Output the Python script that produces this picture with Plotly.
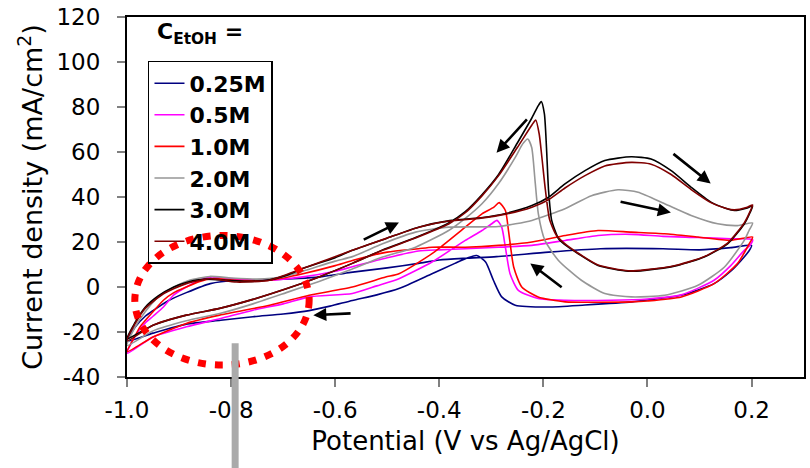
import plotly.graph_objects as go

# Cyclic voltammograms: forward scan -1.0 V -> 0.2 V, then reverse scan back to -1.0 V.
# Potential in V vs Ag/AgCl, current density in mA/cm2.
pot_025 = [-1.0, -0.985, -0.965, -0.95, -0.92, -0.886, -0.84, -0.79, -0.73, -0.67, -0.63, -0.57, -0.50, -0.44,
           -0.40, -0.35, -0.29, -0.19, -0.09, 0.03, 0.10, 0.16, 0.20,
           0.195, 0.18, 0.16, 0.128, 0.065, 0.0, -0.03, -0.12, -0.19, -0.254, -0.28, -0.296, -0.311, -0.328,
           -0.345, -0.37, -0.414, -0.4775, -0.52, -0.567, -0.61, -0.65, -0.70, -0.758, -0.82, -0.886, -0.95, -1.0]
cur_025 = [-24, -18, -13, -10.5, -6, -2.5, 1.5, 3, 3.2, 3.8, 4.5, 6.5, 8.5, 10.5,
           12, 12.8, 13.5, 15.5, 17, 17, 16.5, 17.5, 18.5,
           16, 11.8, 7, 1.5, -3.7, -5.8, -6.6, -8, -8.9, -8.1, -4.4, 3, 11.1, 14,
           13, 10.5, 5.9, -0.7, -3.5, -6, -8.5, -10.5, -12, -13.2, -14.8, -16.5, -20.5, -24]

pot_05 = [-1.0, -0.985, -0.965, -0.95, -0.93, -0.91, -0.886, -0.86, -0.841, -0.79, -0.726, -0.662, -0.60, -0.567,
          -0.50, -0.44, -0.40, -0.35, -0.286, -0.222, -0.158, -0.095, -0.031, 0.03, 0.097, 0.16, 0.202,
          0.195, 0.186, 0.16, 0.128, 0.065, 0.0, -0.07, -0.158, -0.21, -0.248, -0.264, -0.273, -0.280, -0.289,
          -0.30, -0.318, -0.35, -0.414, -0.4775, -0.52, -0.567, -0.65, -0.70, -0.758, -0.82, -0.886, -0.95, -1.0]
cur_05 = [-29.5, -22, -16, -13, -8.9, -3.5, 0, 3, 4.4, 3.5, 3, 4.5, 7, 9,
          13, 16, 16.5, 17, 17.7, 18.5, 20.7, 22.9, 23.4, 22.5, 22, 21.4, 21,
          18, 16.3, 9.5, 3, -3.5, -5.3, -5.9, -5.9, -5.1, -1.5, 5.9, 17.7, 26.6, 29.6,
          28, 25.1, 20.7, 11.1, 3.7, 0.5, -2.9, -4.4, -7.5, -10.3, -14, -17.7, -22.2, -29.5]

pot_10 = [-1.0, -0.985, -0.975, -0.95, -0.93, -0.91, -0.886, -0.86, -0.835, -0.79, -0.726, -0.662, -0.60, -0.567,
          -0.50, -0.44, -0.414, -0.35, -0.286, -0.222, -0.158, -0.095, -0.031, 0.033, 0.097, 0.16, 0.202,
          0.195, 0.173, 0.128, 0.065, 0.0, -0.031, -0.158, -0.21, -0.2415, -0.257, -0.267, -0.273, -0.285,
          -0.295, -0.318, -0.35, -0.414, -0.4775, -0.503, -0.567, -0.65, -0.726, -0.822, -0.886, -0.95, -1.0]
cur_10 = [-28.8, -22, -17.7, -11, -5.9, -2.5, 0, 2.5, 3.7, 3, 3, 5.9, 9.5, 11.8,
          15.5, 17, 17.7, 17.7, 18.5, 20, 22.9, 25.1, 24.4, 23.7, 22.2, 20.7, 22.2,
          19, 10.4, 1.5, -4.4, -6.2, -6.6, -6.6, -4.4, 0, 8.9, 25.1, 34, 37.5,
          35.5, 32.5, 26.6, 14.8, 5.9, 4.4, 0, -3.7, -8.1, -12.5, -16.2, -22.2, -28.8]

pot_20 = [-1.0, -0.985, -0.965, -0.94, -0.91, -0.88, -0.841, -0.80, -0.75, -0.70, -0.662, -0.60, -0.567, -0.509,
          -0.4456, -0.382, -0.286, -0.222, -0.1585, -0.1075, -0.0565, -0.018, 0.033, 0.084, 0.135, 0.173, 0.202,
          0.195, 0.186, 0.148, 0.097, 0.033, -0.031, -0.082, -0.127, -0.171, -0.197, -0.2096, -0.216, -0.2224,
          -0.230, -0.24, -0.254, -0.286, -0.318, -0.35, -0.382, -0.4456, -0.509, -0.567, -0.631, -0.694, -0.758,
          -0.822, -0.886, -0.95, -1.0]
cur_20 = [-26, -18, -11, -4.5, 0, 3, 4.7, 4, 3.5, 4.5, 7, 11.5, 13.5, 19.2,
          24.4, 26.6, 26.9, 29.6, 34.8, 40.6, 43.2, 42.1, 37, 31.8, 28.1, 27.3, 28.4,
          25, 20.7, 8.9, 0.75, -3.7, -4.4, -2.9, 3, 11.8, 20.7, 32.5, 47.3, 62,
          65.8, 63.5, 57.6, 46, 37, 30.5, 25.1, 17.7, 13.3, 8, 2.5, -2.5, -7.5,
          -11.8, -15, -19.5, -26]

pot_30 = [-1.0, -0.985, -0.965, -0.94, -0.91, -0.886, -0.85, -0.81, -0.77, -0.726, -0.69, -0.6626, -0.60, -0.567,
          -0.503, -0.44, -0.38, -0.32, -0.27, -0.222, -0.19, -0.1585, -0.12, -0.082, -0.031, 0.007, 0.0456, 0.084,
          0.122, 0.15, 0.167, 0.19, 0.202,
          0.197, 0.186, 0.154, 0.109, 0.058, -0.005, -0.037, -0.095, -0.133, -0.16, -0.171, -0.184, -0.19, -0.194,
          -0.198, -0.204, -0.210, -0.2224, -0.25, -0.286, -0.318, -0.35, -0.382, -0.4456, -0.509, -0.567, -0.631,
          -0.694, -0.758, -0.822, -0.886, -0.95, -1.0]
cur_30 = [-23, -16, -9, -4, 0, 2, 3.5, 3, 2.5, 3.2, 5.5, 8.2, 13, 16.3,
          21.5, 26.6, 29.5, 30.8, 32.8, 36.2, 39.9, 45.8, 51.7, 56.2, 57.9, 56.9, 51.7, 44.3,
          37.7, 35, 34, 35, 36,
          33, 28, 19.2, 13.3, 9.6, 7.4, 7.0, 9.6, 14.8, 19, 21.5, 29.6, 42.9, 62,
          76.9, 82.4, 80.5, 75, 64, 50, 41, 33.5, 28.5, 22, 16.5, 10.5, 4.5,
          -0.8, -5.5, -9.5, -12.5, -17, -23]

pot_40 = [-1.0, -0.985, -0.965, -0.93, -0.886, -0.841, -0.79, -0.726, -0.6626, -0.567, -0.503, -0.439, -0.38,
          -0.32, -0.27, -0.222, -0.19, -0.1585, -0.12, -0.082, -0.031, 0.007, 0.0456, 0.084, 0.122, 0.15, 0.167,
          0.19, 0.202,
          0.197, 0.186, 0.154, 0.109, 0.058, -0.005, -0.037, -0.095, -0.133, -0.16, -0.175, -0.188, -0.196,
          -0.203, -0.208, -0.2147, -0.222, -0.25, -0.286, -0.318, -0.35, -0.382, -0.4456, -0.509, -0.567, -0.631,
          -0.694, -0.758, -0.822, -0.886, -0.95, -1.0]
cur_40 = [-24, -16.5, -9.5, -3, 1.5, 3.7, 2.2, 3.0, 8.2, 16.3, 21.5, 26.6, 29.3,
          30.6, 32.5, 35.5, 38.8, 44, 49.5, 53.8, 55.4, 54.6, 50, 43.3, 37.5, 35, 34.3,
          35.3, 36.5,
          33.5, 28.5, 19.5, 13.5, 9.8, 7.6, 7.2, 9.8, 15, 19.5, 23, 30, 43,
          58, 68, 74.2, 72, 62, 49.5, 40.5, 33, 28, 21.8, 16.3, 10.5, 4.5,
          -0.8, -5.5, -9.5, -12.5, -17, -24]

series_names = ["0.25M", "0.5M", "1.0M", "2.0M", "3.0M", "4.0M"]
series_pot = [pot_025, pot_05, pot_10, pot_20, pot_30, pot_40]
series_cur = [cur_025, cur_05, cur_10, cur_20, cur_30, cur_40]
series_colors = ["#000080", "#ff00ff", "#ff0000", "#969696", "#000000", "#800000"]

x_tick_vals = [-1.0, -0.8, -0.6, -0.4, -0.2, 0.0, 0.2]
x_tick_text = ["-1.0", "-0.8", "-0.6", "-0.4", "-0.2", "0.0", "0.2"]
y_tick_vals = [-40, -20, 0, 20, 40, 60, 80, 100, 120]
y_tick_text = ["-40", "-20", "0", "20", "40", "60", "80", "100", "120"]

FONT = "DejaVu Sans"

fig = go.Figure()
for name, xs, ys, col in zip(series_names, series_pot, series_cur, series_colors):
    fig.add_trace(go.Scatter(
        x=xs, y=ys, mode="lines", name=name,
        line=dict(color=col, width=1.6, shape="spline", smoothing=0.6),
    ))

# scan-direction arrows (tail -> head, data coordinates)
arrows = [
    ((-0.548, 20.7), (-0.4775, 28.7)),
    ((-0.5675, -11.7), (-0.642, -12.5)),
    ((-0.229, 75.2), (-0.29, 59.7)),
    ((-0.162, -0.6), (-0.225, 10.5)),
    ((-0.0545, 38.0), (0.045, 33.1)),
    ((0.047, 59.7), (0.1215, 46.0)),
]
annotations = []
for (tx, ty), (hx, hy) in arrows:
    annotations.append(dict(
        x=hx, y=hy, ax=tx, ay=ty, xref="x", yref="y", axref="x", ayref="y",
        text="", showarrow=True, arrowhead=2, arrowsize=1.0, arrowwidth=2.6,
        arrowcolor="black", standoff=0, startstandoff=0,
    ))

# heading above the legend box
annotations.append(dict(
    text="<b>C<sub>EtOH</sub> =</b>", xref="paper", yref="paper",
    x=0.041, y=0.953, xanchor="left", yanchor="middle", showarrow=False,
    font=dict(family=FONT, size=22, color="black"),
))

shapes = [
    # dotted ellipse marking the low-potential region
    dict(type="circle", xref="x", yref="y", x0=-0.985, x1=-0.650, y0=-34.7, y1=22.9,
         line=dict(color="#ff0000", width=7, dash="8px,9px"), layer="above"),
    # grey marker bar at -0.8 V below the axis
    dict(type="rect", xref="paper", yref="paper", x0=0.1546, x1=0.1649, y0=-0.32, y1=0.094,
         fillcolor="#aaaaaa", line=dict(width=0), layer="above"),
]

fig.update_layout(
    width=810, height=468,
    margin=dict(l=127, r=4, t=16, b=91),
    paper_bgcolor="white", plot_bgcolor="white",
    font=dict(family=FONT, color="black"),
    showlegend=True,
    legend=dict(
        x=0.031, y=0.878, xanchor="left", yanchor="top",
        bordercolor="black", borderwidth=1.5, bgcolor="rgba(255,255,255,0)",
        font=dict(family=FONT, size=22, color="black", weight="bold"),
        itemwidth=30, tracegroupgap=0,
    ),
    annotations=annotations,
    shapes=shapes,
    xaxis=dict(
        range=[-1.0, 0.3008], tickvals=x_tick_vals, ticktext=x_tick_text,
        ticks="outside", ticklen=8, tickwidth=1.5, tickcolor="#808080",
        showline=True, linecolor="black", linewidth=2, mirror=True,
        showgrid=False, zeroline=False,
        tickfont=dict(family=FONT, size=23, color="black"),
        ticklabelstandoff=3,
        title=dict(text="Potential (V vs Ag/AgCl)", font=dict(family=FONT, size=26, color="black"), standoff=10),
    ),
    yaxis=dict(
        range=[-40, 120], tickvals=y_tick_vals, ticktext=y_tick_text,
        ticks="outside", ticklen=8, tickwidth=1.5, tickcolor="#808080",
        showline=True, linecolor="black", linewidth=2, mirror=True,
        showgrid=False, zeroline=False,
        tickfont=dict(family=FONT, size=23, color="black"),
        ticklabelstandoff=12,
        title=dict(text="Current density (mA/cm<sup>2</sup>)", font=dict(family=FONT, size=27, color="black"), standoff=6),
    ),
)

fig.write_html("out.html")
